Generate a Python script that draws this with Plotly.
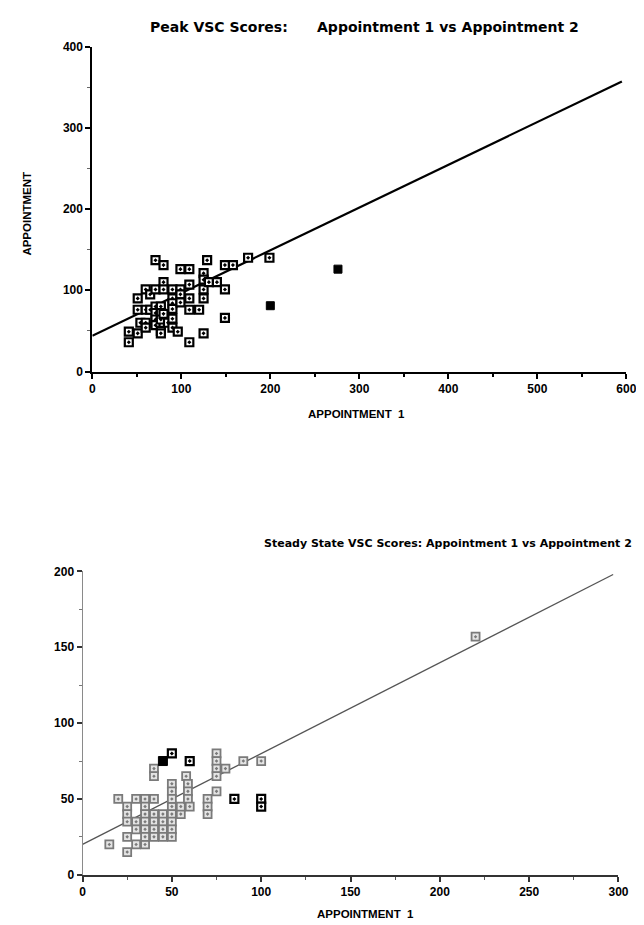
import plotly.graph_objects as go

W, H = 644, 925

# ---------------- data: Peak VSC ----------------
peak_x = [41, 41, 51, 51, 51, 54, 60, 60, 60, 60, 65, 65, 71, 71, 71, 71, 71, 71,
          77, 77, 77, 77, 77, 80, 80, 80, 80, 85, 90, 90, 90, 90, 90, 90, 96,
          99, 109, 99, 99, 99, 109, 109, 109, 109, 120, 125, 125, 125, 125, 125,
          129, 131, 140, 149, 158, 149, 149, 175, 199]
peak_y = [36, 49, 47, 76, 90, 60, 76, 60, 54, 101, 95, 76, 101, 137, 80, 72, 64, 57,
          80, 72, 64, 50, 47, 131, 110, 101, 71, 60, 101, 90, 84, 77, 65, 54, 49,
          126, 126, 101, 95, 85, 107, 90, 76, 36, 76, 121, 113, 101, 90, 47,
          137, 110, 110, 131, 131, 101, 66, 140, 140]
peak_filled_x = [200, 276]
peak_filled_y = [81, 126]
peak_fit_x = [0, 595]
peak_fit_y = [44, 357]

# ---------------- data: Steady State VSC ----------------
ss_x = [15, 20, 25, 25, 25, 25, 25, 30, 35, 30, 35, 40, 30, 30, 35, 35, 35, 35, 35,
        40, 40, 40, 40, 45, 45, 45, 45, 50, 50, 50, 50, 50, 40, 40, 50, 50, 50,
        55, 55, 58, 59, 59, 59, 60, 70, 70, 70, 75, 75, 75, 75, 75, 80, 90, 100, 220]
ss_y = [20, 50, 45, 40, 35, 25, 15, 20, 20, 50, 50, 50, 35, 30, 45, 40, 35, 30, 25,
        40, 35, 30, 25, 40, 35, 30, 25, 45, 40, 35, 30, 25, 70, 65, 60, 55, 50,
        40, 45, 65, 60, 55, 50, 45, 50, 45, 40, 80, 75, 70, 65, 55, 70, 75, 75, 157]
ss_dark_x = [50, 60, 85, 100, 100]
ss_dark_y = [80, 75, 50, 50, 45]
ss_solid_x = [45]
ss_solid_y = [75]
ss_fit_x = [0, 297]
ss_fit_y = [20, 198]

peak_xticks = [0, 100, 200, 300, 400, 500, 600]
peak_yticks = [0, 100, 200, 300, 400]
ss_xticks = [0, 50, 100, 150, 200, 250, 300]
ss_yticks = [0, 50, 100, 150, 200]


def px(x):
    return x / W


def py(y):
    return 1 - y / H


FONT = "Liberation Sans"
TFONT = "DejaVu Sans"
tickfont = dict(family=FONT, size=12, color="black", weight="bold")

fig = go.Figure()

# top chart
fig.add_trace(go.Scatter(x=peak_fit_x, y=peak_fit_y, mode="lines",
                         line=dict(color="black", width=2.2),
                         xaxis="x", yaxis="y", showlegend=False))
fig.add_trace(go.Scatter(x=peak_x, y=peak_y, mode="markers",
                         marker=dict(symbol="square-dot", size=8, color="white",
                                     line=dict(color="black", width=2.2)),
                         xaxis="x", yaxis="y", showlegend=False))
fig.add_trace(go.Scatter(x=peak_filled_x, y=peak_filled_y, mode="markers",
                         marker=dict(symbol="square", size=8, color="black",
                                     line=dict(color="black", width=1)),
                         xaxis="x", yaxis="y", showlegend=False))

# bottom chart
fig.add_trace(go.Scatter(x=ss_fit_x, y=ss_fit_y, mode="lines",
                         line=dict(color="#555555", width=1.3),
                         xaxis="x2", yaxis="y2", showlegend=False))
fig.add_trace(go.Scatter(x=ss_x, y=ss_y, mode="markers",
                         marker=dict(symbol="square-dot", size=8, color="#e4e4e4",
                                     line=dict(color="#7a7a7a", width=1.8)),
                         xaxis="x2", yaxis="y2", showlegend=False))
fig.add_trace(go.Scatter(x=ss_dark_x, y=ss_dark_y, mode="markers",
                         marker=dict(symbol="square-dot", size=8, color="white",
                                     line=dict(color="black", width=2.2)),
                         xaxis="x2", yaxis="y2", showlegend=False))
fig.add_trace(go.Scatter(x=ss_solid_x, y=ss_solid_y, mode="markers",
                         marker=dict(symbol="square", size=9, color="black",
                                     line=dict(color="black", width=1)),
                         xaxis="x2", yaxis="y2", showlegend=False))

axis_common = dict(showgrid=False, zeroline=False, ticks="outside",
                   tickfont=tickfont, fixedrange=True)

fig.update_layout(
    width=W, height=H,
    margin=dict(l=0, r=0, t=0, b=0),
    paper_bgcolor="white", plot_bgcolor="white",
    xaxis=dict(domain=[px(83), px(628)], range=[0, 600], anchor="y",
               tickvals=peak_xticks, showline=True, linecolor="black", linewidth=2,
               ticklen=5, tickwidth=2, tickcolor="black",
               minor=dict(tickvals=[50, 150, 250, 350, 450, 550], ticks="outside",
                          ticklen=3, tickwidth=1.5, tickcolor="black"),
               **axis_common),
    yaxis=dict(domain=[py(362), py(32)], range=[0, 400], anchor="x",
               tickvals=peak_yticks, showline=True, linecolor="black", linewidth=2,
               ticklen=5, tickwidth=2, tickcolor="black",
               minor=dict(tickvals=[50, 150, 250, 350], ticks="outside",
                          ticklen=3, tickwidth=1, tickcolor="#666666"),
               **axis_common),
    xaxis2=dict(domain=[px(73), px(620)], range=[0, 300], anchor="y2",
                tickvals=ss_xticks, showline=True, linecolor="#333333", linewidth=2,
                ticklen=5, tickwidth=1.5, tickcolor="#333333",
                minor=dict(tickvals=[25, 75, 125, 175, 225, 275], ticks="outside",
                           ticklen=3, tickwidth=1, tickcolor="#555555"),
                **axis_common),
    yaxis2=dict(domain=[py(873), py(565)], range=[0, 200], anchor="x2",
                tickvals=ss_yticks, showline=True, linecolor="#8a8a8a", linewidth=1,
                ticklen=5, tickwidth=1.5, tickcolor="#333333",
                minor=dict(tickvals=[25, 75, 125, 175], ticks="outside",
                           ticklen=3, tickwidth=1, tickcolor="#777777"),
                **axis_common),
)

annotations = [
    dict(text="<b>Peak VSC Scores:&nbsp;&nbsp;&nbsp;&nbsp;&nbsp; Appointment 1 vs Appointment 2</b>",
         x=px(361), y=py(12), size=14, family=TFONT),
    dict(text="<b>APPOINTMENT&nbsp; 1</b>", x=px(353), y=py(405), size=11.5, family=FONT),
    dict(text="<b>APPOINTMENT</b>", x=px(16), y=py(202), textangle=-90, size=11.5, family=FONT),
    dict(text="<b>Steady State VSC Scores: Appointment 1 vs Appointment 2</b>",
         x=px(446), y=py(537), size=11, family=TFONT),
    dict(text="<b>APPOINTMENT&nbsp; 1</b>", x=px(362), y=py(913), size=11.5, family=FONT),
]
for a in annotations:
    size = a.pop("size")
    fam = a.pop("family")
    a.update(xref="paper", yref="paper", showarrow=False,
             font=dict(family=fam, size=size, color="black"),
             xanchor="center", yanchor="middle")
fig.update_layout(annotations=annotations)

fig.write_html("out.html")
